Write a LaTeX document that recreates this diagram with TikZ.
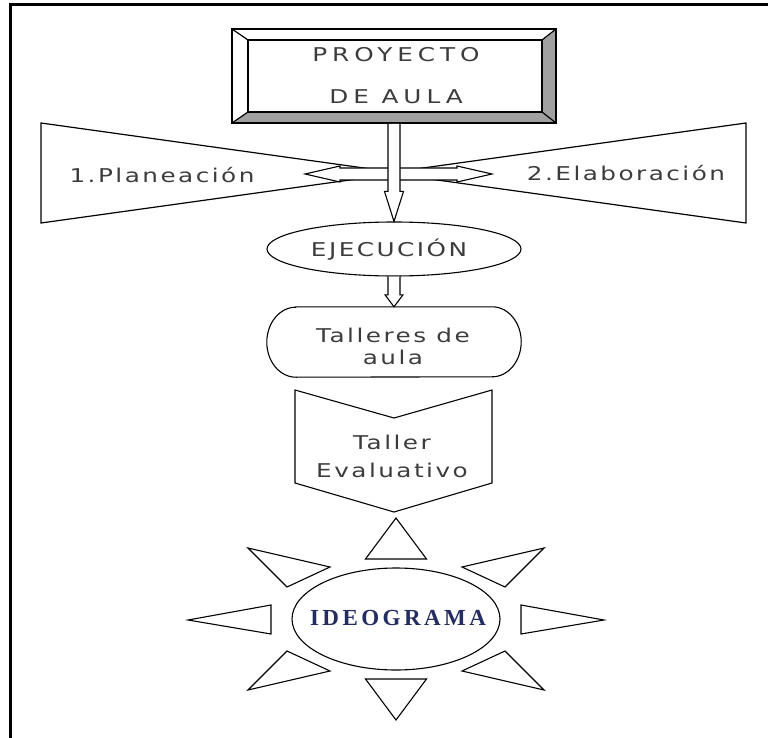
\documentclass[tikz,border=0pt]{standalone}
\usepackage{fontspec}
\usepackage{graphicx}
\usetikzlibrary{shapes.geometric,calc}
\newfontfamily\boxfont[LetterSpace=10]{DejaVu Sans}
\newfontfamily\titlefont[LetterSpace=20]{DejaVu Sans}
\newfontfamily\ideofont[LetterSpace=15]{Liberation Serif}
\newcommand{\wide}[1]{\scalebox{1.3}[1]{#1}}
\definecolor{textgray}{RGB}{60,60,60}
\definecolor{bevelgray}{RGB}{160,160,160}
\definecolor{ideoblue}{RGB}{35,45,95}

\begin{document}
\begin{tikzpicture}[%
      x=1pt,y=1pt,
      outline/.style={draw=black,line width=1.2pt},
      hollow/.style={draw=black,line width=1.1pt,fill=white},
      boxtext/.style={text=textgray,inner sep=0pt,align=center,
        font=\boxfont\fontsize{19}{22}\selectfont},
      ]
      \useasboundingbox (0,0) rectangle (768,-738);
      \draw [line width=3pt] (10,-738) -- (10,-4.5) -- (768,-4.5);

      % proyecto de aula
      \node [outline,line width=1.8pt,fill=white,minimum width=324,minimum height=94,
        inner sep=0pt] (proy) at (394,-76) {};
      \fill [bevelgray] (556,-29) -- (556,-123) -- (542,-112) -- (542,-40) -- cycle;
      \fill [bevelgray] (232,-123) -- (556,-123) -- (542,-112) -- (248,-112) -- cycle;
      \draw [outline] (232,-29) rectangle (556,-123);
      \draw [outline] (248,-40) rectangle (542,-112);
      \draw [outline] (232,-29) -- (248,-40);
      \draw [outline] (556,-29) -- (542,-40);
      \draw [outline] (232,-123) -- (248,-112);
      \draw [outline] (556,-123) -- (542,-112);
      \node [text=textgray,inner sep=0pt,align=center,
        font=\titlefont\fontsize{19}{42}\selectfont] (proytext) at (396,-76) {\wide{PROYECTO}\\\wide{DE AULA}};

      % planeacion / elaboracion
      \draw [outline] (41,-123) -- (41,-223) -- (400,-173) -- cycle;
      \draw [outline] (746,-123) -- (746,-223) -- (387,-173) -- cycle;
      \node [boxtext] (plan) at (162,-175) {\wide{1.Planeación}};
      \node [boxtext] (elab) at (626,-173) {\wide{2.Elaboración}};
      \draw [hollow] (305,-174) -- (340,-166) -- (340,-168) -- (457,-168) -- (457,-166)
        -- (492,-174) -- (457,-182) -- (457,-180) -- (340,-180) -- (340,-182) -- cycle;

      % ejecucion
      \node [draw,ellipse,line width=1.1pt,minimum width=254,minimum height=54,
        boxtext] (ejec) at (394,-249) {};
      \node [boxtext] (ejectext) at (389,-250) {\wide{EJECUCIÓN}};
      \draw [hollow] ($(proy.south)+(-6,0)$) -- ($(ejec.north)+(-6,30)$) -- ($(ejec.north)+(-9.5,30)$)
        -- (ejec.north) -- ($(ejec.north)+(9.5,30)$) -- ($(ejec.north)+(6,30)$) -- ($(proy.south)+(6,0)$);

      % talleres de aula
      \node [boxtext,minimum width=196,minimum height=70] (tall) at (394,-342) {};
      \node [boxtext] (talltext) at (393,-346) {\wide{Talleres de}\\\wide{aula}};
      \draw [outline,line width=1.1pt] (tall.north west) -- (tall.north east)
        arc[start angle=90,end angle=-90,x radius=29,y radius=35] -- (tall.south west)
        arc[start angle=270,end angle=90,x radius=29,y radius=35] -- cycle;
      \draw [hollow] ($(ejec.south)+(-6,0)$) -- ($(tall.north)+(-6,12)$) -- ($(tall.north)+(-9,12)$)
        -- (tall.north) -- ($(tall.north)+(9,12)$) -- ($(tall.north)+(6,12)$) -- ($(ejec.south)+(6,0)$);

      % taller evaluativo
      \draw [outline,line width=1.1pt] (295,-390) -- (394,-418) -- (492,-390) -- (492,-483)
        -- (394,-512) -- (295,-483) -- cycle;
      \node [boxtext,font=\boxfont\fontsize{19}{28}\selectfont] (teval) at (392,-456) {\wide{Taller}\\\wide{Evaluativo}};

      % ideograma
      \node [draw,ellipse,line width=1.1pt,minimum width=208,minimum height=102,inner sep=0pt] (ideo) at (396,-619) {};
      \node [text=ideoblue,inner sep=0pt,font=\ideofont\bfseries\fontsize{23}{24}\selectfont] (ideotext) at (398,-618) {IDEOGRAMA};
      \foreach \p/\q/\r in {365.5/559/426.5, 365.5/679/426.5}
        {\draw [outline,line width=1.1pt] (\p,-\q) -- (\r,-\q) -- (396,{\q<619 ? -518 : -720}) -- cycle;}
      \draw [outline,line width=1.1pt] (271,-605) -- (271,-634) -- (188,-620) -- cycle;
      \draw [outline,line width=1.1pt] (521,-605) -- (521,-634) -- (604,-620) -- cycle;
      \draw [outline,line width=1.1pt] (248,-548) -- (330,-567) -- (287,-587) -- cycle;
      \draw [outline,line width=1.1pt] (544,-548) -- (462,-567) -- (505,-587) -- cycle;
      \draw [outline,line width=1.1pt] (248,-690) -- (330,-671) -- (287,-651) -- cycle;
      \draw [outline,line width=1.1pt] (544,-690) -- (462,-671) -- (505,-651) -- cycle;
      \end{tikzpicture}
\end{document}
